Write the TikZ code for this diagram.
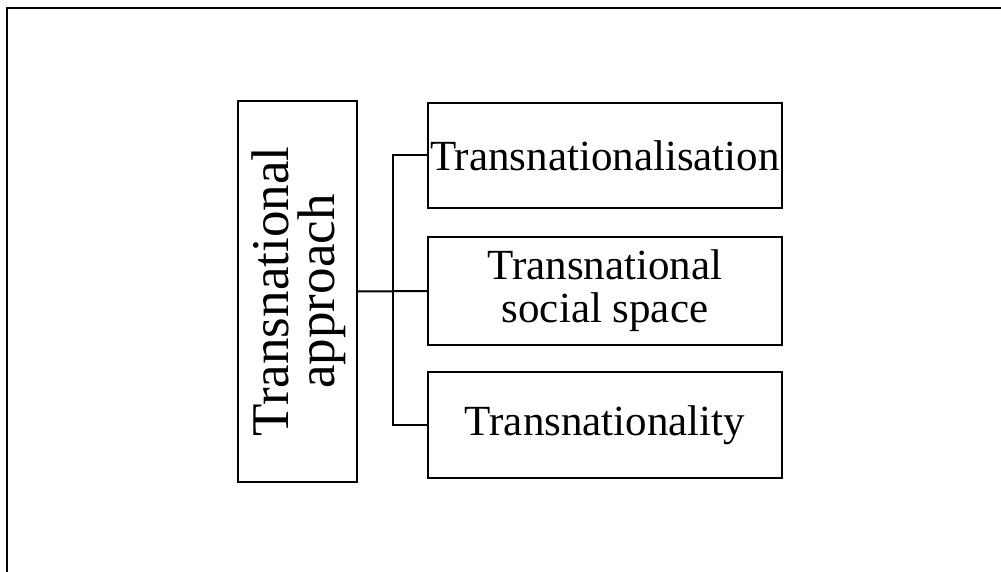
\documentclass[tikz,border=0pt]{standalone}
\usepackage{fontspec}
\setmainfont{Liberation Serif}
\begin{document}
\begin{tikzpicture}[x=1pt,y=-1pt,
  frame/.style={draw=black, line width=2pt},
  box/.style={draw=black, line width=2pt, rectangle, inner sep=0pt, align=center,
    font=\fontsize{43}{43}\selectfont},
  link/.style={draw=black, line width=2pt}]
  \useasboundingbox (0,0) rectangle (1001,572);
  % outer frame, running off the right and bottom edges
  \draw[frame] (7,8) rectangle (1020,590);

  % main concept, rotated text
  \node[box, minimum width=119pt, minimum height=381pt] (approach) at (297.5,291.5) {};
  \node[font=\fontsize{53}{46}\selectfont, rotate=90, align=center, inner sep=0pt]
    (approachtxt) at (298.5,291.5) {Transnational\\approach};

  % the three components
  \node[box, minimum width=354pt, minimum height=105pt] (tion) at (605,155.5) {Transnationalisation};
  \node[box, minimum width=354pt, minimum height=108pt] (space) at (605,291) {Transnational\\social space};
  \node[box, minimum width=354pt, minimum height=106pt] (ality) at (605,425) {\raisebox{-3pt}{Transnationality}};

  % bracket connector
  \coordinate (j) at (393,291.5);
  \draw[link] (approach.east) -- (space.west);
  \draw[link] (tion.west) -| (j) |- (ality.west);
\end{tikzpicture}
\end{document}
